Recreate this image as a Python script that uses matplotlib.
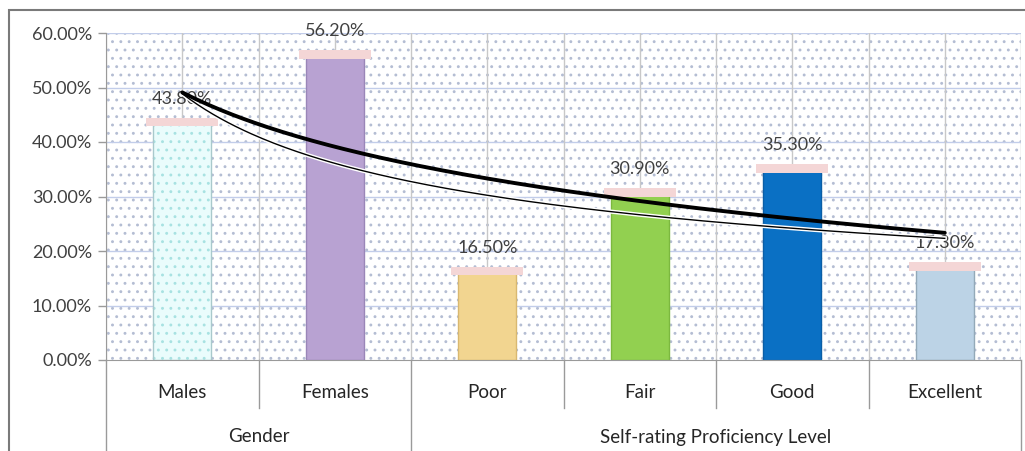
import numpy as np
import matplotlib
matplotlib.use("Agg")
import matplotlib.pyplot as plt
from matplotlib.patches import Rectangle
import matplotlib.patheffects as pe

# ---- data ----
categories = ["Males", "Females", "Poor", "Fair", "Good", "Excellent"]
values = [43.8, 56.2, 16.5, 30.9, 35.3, 17.3]
groups = ["Gender", "Self-rating Proficiency Level"]
group_sizes = [2, 4]
y_ticks = [0, 10, 20, 30, 40, 50, 60]
y_tick_labels = ["0.00%", "10.00%", "20.00%", "30.00%", "40.00%", "50.00%", "60.00%"]
bar_colors = ["#eafcfc", "#b8a2d2", "#f2d590", "#92d050", "#0a70c4", "#bcd3e6"]
bar_edges = ["#a9c9cc", "#9a86b8", "#d9b870", "#7cb83f", "#0a5ea6", "#93a9b8"]

plt.rcParams['font.family'] = ['Lato', 'DejaVu Sans']
plt.rcParams['hatch.linewidth'] = 0.9

fig = plt.figure(figsize=(10.25, 4.51), dpi=100)
W, H = 1025, 451
left, right, top, bottom = 106, 1021, 33, 360
ax = fig.add_axes([left / W, (H - bottom) / H, (right - left) / W, (bottom - top) / H])

n = len(categories)
x = np.arange(n)
ax.set_xlim(-0.5, n - 0.5)
ax.set_ylim(0, 60)

# dotted background
bg = Rectangle((0, 0), 1, 1, transform=ax.transAxes, facecolor="white",
               edgecolor="#b4bdd3", linewidth=0, hatch="..", zorder=0)
ax.add_patch(bg)
ax.set_facecolor("white")

# gridlines
for yv in y_ticks[1:]:
    ax.axhline(yv, color="#c2cdea", lw=1.0, zorder=1)
for xv in np.arange(-0.5, n, 0.5):
    ax.axvline(xv, color="#c8c8c8", lw=1.0, zorder=1)

# bars
bw = 0.38
for i, (v, c, ec) in enumerate(zip(values, bar_colors, bar_edges)):
    if i == 0:
        ax.bar(x[i], v, bw, color=c, edgecolor="#a8e2e2", linewidth=0, hatch="..", zorder=2)
        ax.bar(x[i], v, bw, color="none", edgecolor=ec, linewidth=1.0, zorder=2)
    else:
        ax.bar(x[i], v, bw, color=c, edgecolor=ec, linewidth=1.0, zorder=2)
    # pinkish top cap
    ax.bar(x[i], 1.5, 0.47, bottom=v - 0.9, color="#f4d6d6", edgecolor="none", zorder=3)
    ax.annotate(f"{v:.2f}%", (x[i], v), xytext=(0, 16), textcoords="offset points",
                ha="center", va="center", fontsize=13, color="#404040", zorder=4)

# trend lines (logarithmic and power fits of the series)
xs = x + 1.0
xx = np.linspace(1, n, 200)
b_log, a_log = np.polyfit(np.log(xs), values, 1)
b_pow, a_pow = np.polyfit(np.log(xs), np.log(values), 1)
y_log = a_log + b_log * np.log(xx)
y_pow = np.exp(a_pow) * xx ** b_pow
ax.plot(xx - 1, y_pow, color="black", lw=1.0, zorder=5,
        path_effects=[pe.Stroke(linewidth=3.0, foreground="white"), pe.Normal()])
ax.plot(xx - 1, y_log, color="black", lw=2.8, zorder=6, solid_capstyle="round")

# y axis
ax.set_yticks(y_ticks)
ax.set_yticklabels(y_tick_labels, fontsize=13, color="#404040")
ax.tick_params(axis="y", length=6, width=1, color="#9a9a9a", pad=4)
ax.set_xticks([])
for s in ["top", "right"]:
    ax.spines[s].set_visible(False)
ax.spines["left"].set_color("#9a9a9a")
ax.spines["bottom"].set_color("#9a9a9a")

# category table below the axis
tr = ax.get_xaxis_transform()
ph = bottom - top
for i, c in enumerate(categories):
    ax.text(x[i], -33 / ph, c, transform=tr, ha="center", va="center",
            fontsize=13.5, color="#262626", clip_on=False)
bounds = np.cumsum([0] + group_sizes) - 0.5
for i in range(1, n):
    xb = i - 0.5
    if xb in bounds:
        continue
    ax.plot([xb, xb], [0, -48 / ph], transform=tr, color="#9a9a9a", lw=1, clip_on=False)
for xb in bounds:
    ax.plot([xb, xb], [0, -95 / ph], transform=tr, color="#9a9a9a", lw=1, clip_on=False)
for g, a, b in zip(groups, bounds[:-1], bounds[1:]):
    ax.text((a + b) / 2, -77 / ph, g, transform=tr, ha="center", va="center",
            fontsize=13.5, color="#262626", clip_on=False)

# outer chart border
fig.add_artist(Rectangle((9 / W, -0.05), (1040 - 9) / W, 1 - 10 / H + 0.05,
                         transform=fig.transFigure, facecolor="none",
                         edgecolor="#7a7a7a", lw=1.5))

fig.savefig("out.png", dpi=100)
